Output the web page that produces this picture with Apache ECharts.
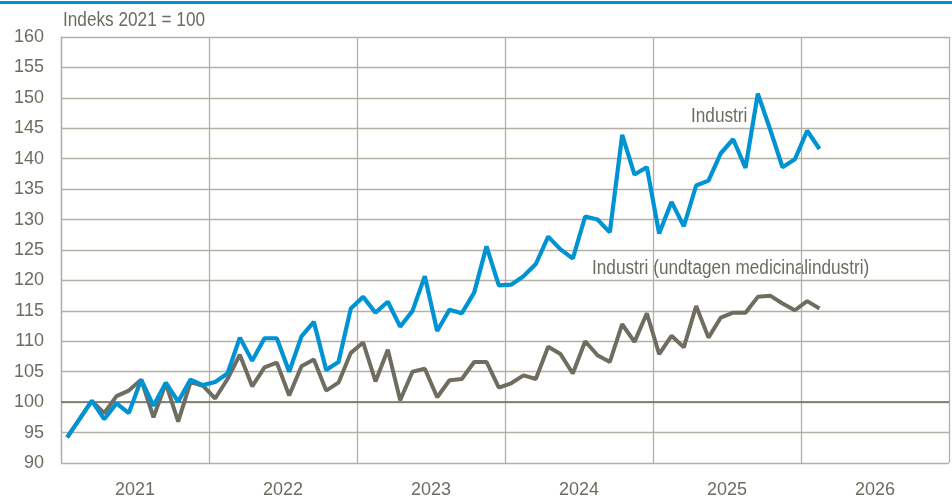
<!DOCTYPE html>
<html>
<head>
<meta charset="utf-8">
<script src="https://cdn.jsdelivr.net/npm/echarts@6/dist/echarts.min.js"></script>
<style>
html,body{margin:0;padding:0;background:#fff;}
#chart{width:952px;height:499px;}
</style>
</head>
<body>
<div id="chart"></div>
<script>
// Monthly index values, Jan 2021 - Feb 2026 (Indeks 2021 = 100)
const years = ['2021', '2022', '2023', '2024', '2025', '2026'];
const industri = [
  94.2, 97.2, 100.2, 97.2, 99.8, 98.2, 103.7, 99.4, 103.2, 100.1, 103.7, 102.8,
  103.3, 104.7, 110.6, 106.8, 110.5, 110.5, 105.0, 110.8, 113.2, 105.3, 106.6, 115.4,
  117.3, 114.7, 116.5, 112.4, 115.0, 120.7, 111.7, 115.2, 114.6, 118.0, 125.6, 119.2,
  119.3, 120.7, 122.7, 127.2, 125.1, 123.6, 130.5, 130.0, 127.9, 143.9, 137.4, 138.6,
  127.7, 132.9, 128.9, 135.6, 136.4, 140.9, 143.2, 138.5, 150.7, 144.8, 138.6, 139.9,
  144.6, 141.6
];
const industriExMedicinal = [
  94.2, 97.2, 100.2, 98.2, 101.0, 101.9, 103.7, 97.5, 103.1, 96.8, 103.3, 102.7,
  100.6, 103.8, 107.8, 102.6, 105.7, 106.5, 101.1, 105.9, 107.0, 101.9, 103.2, 108.1,
  109.8, 103.4, 108.6, 100.3, 105.0, 105.5, 100.8, 103.6, 103.8, 106.6, 106.6, 102.4,
  103.1, 104.4, 103.8, 109.1, 107.9, 104.7, 110.0, 107.7, 106.6, 112.8, 109.9, 114.6,
  107.9, 110.9, 109.0, 115.8, 110.6, 113.9, 114.7, 114.7, 117.3, 117.5, 116.2, 115.1,
  116.6, 115.4
];
const seriesNames = ['Industri', 'Industri (undtagen medicinalindustri)'];
const yTitle = 'Indeks 2021 = 100';

const FONT = '"Liberation Sans", Arial, sans-serif';
const TXT = '#6d6c60';
const GRID = '#b3b1a5';

const toPts = arr => arr.map((v, i) => [i + 0.5, v]);

const chart = echarts.init(document.getElementById('chart'));
chart.setOption({
  animation: false,
  grid: { left: 61, right: 0, top: 37, bottom: 35, containLabel: false },
  xAxis: [
    {
      type: 'value', min: 0, max: 72, interval: 12, position: 'bottom',
      axisLine: { show: false }, axisTick: { show: false },
      axisLabel: { show: false },
      splitLine: { show: true, lineStyle: { color: GRID, width: 1.3 } }
    },
    {
      type: 'value', min: 0, max: 72, interval: 6, position: 'bottom',
      axisLine: { show: false }, axisTick: { show: false },
      splitLine: { show: false },
      axisLabel: {
        show: true, margin: 18, color: TXT, fontFamily: FONT, fontSize: 18,
        formatter: v => (Math.round(v / 6) % 2 === 1) ? years[(v - 6) / 12] : ''
      }
    }
  ],
  yAxis: {
    type: 'value', min: 90, max: 160, interval: 5,
    axisLine: { show: true, lineStyle: { color: GRID, width: 1.3 } },
    axisTick: { show: false },
    axisLabel: { color: TXT, fontFamily: FONT, fontSize: 18, margin: 17 },
    splitLine: { show: true, lineStyle: { color: GRID, width: 1.3 } }
  },
  series: [
    {
      name: seriesNames[1], type: 'line', xAxisIndex: 0,
      data: toPts(industriExMedicinal), symbol: 'none',
      lineStyle: { color: '#6e6d5f', width: 4 }, z: 3,
      markLine: {
        silent: true, symbol: 'none', label: { show: false },
        lineStyle: { color: '#6e6d62', width: 1.5, type: 'solid' },
        data: [{ yAxis: 100 }], z: 2
      }
    },
    {
      name: seriesNames[0], type: 'line', xAxisIndex: 0,
      data: toPts(industri), symbol: 'none',
      lineStyle: { color: '#0093d4', width: 4.2 }, z: 4
    }
  ],
  graphic: [
    { type: 'rect', shape: { x: 0, y: 1, width: 952, height: 3 }, style: { fill: '#0093d4' } },
    { type: 'text', x: 63, y: 10, scaleX: 0.86, style: { text: yTitle, fill: TXT, font: '20px ' + FONT } },
    { type: 'text', x: 691, y: 106, scaleX: 0.86, style: { text: seriesNames[0], fill: TXT, font: '20px ' + FONT } },
    { type: 'text', x: 592, y: 258, scaleX: 0.86, style: { text: seriesNames[1], fill: TXT, font: '20px ' + FONT } }
  ]
});
</script>
</body>
</html>
